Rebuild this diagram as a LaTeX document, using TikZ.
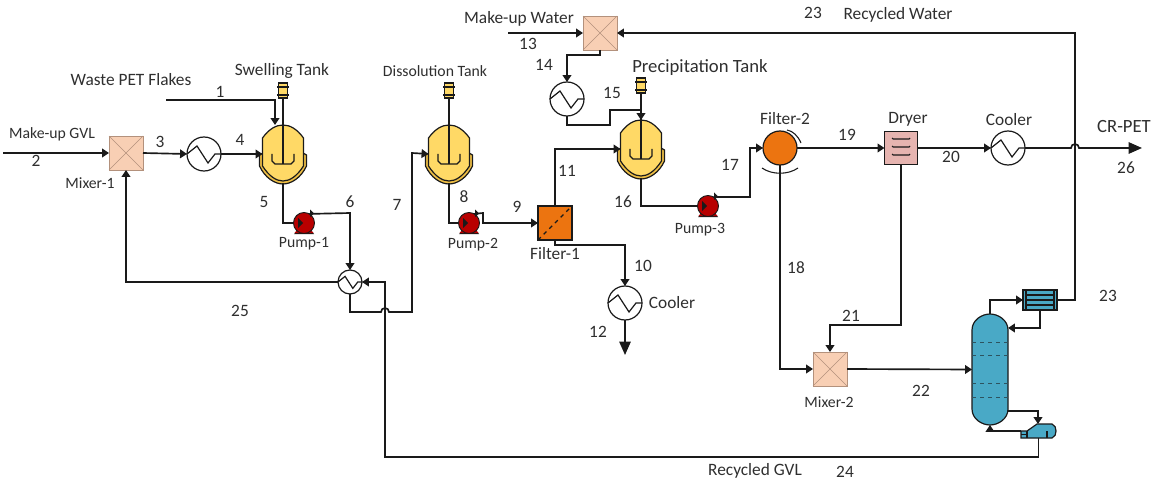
\documentclass[tikz,border=0pt]{standalone}
\usepackage{fontspec}
\setmainfont{Carlito}
\usetikzlibrary{arrows.meta,calc}
\definecolor{txt}{HTML}{2F2F2F}
\definecolor{ln}{HTML}{1A1A1A}
\definecolor{tankfill}{HTML}{FFD966}
\definecolor{jacketfill}{HTML}{EFBF45}
\definecolor{mixfill}{HTML}{F8CFB4}
\definecolor{mixline}{HTML}{B3917C}
\definecolor{orangef}{HTML}{EC7410}
\definecolor{dryerf}{HTML}{E6B4B0}
\definecolor{colf}{HTML}{49A9C6}
\def\u{0.75pt}
\tikzset{
  lab/.style={text=txt,font=\fontsize{13}{15}\selectfont,inner sep=0pt},
  labs/.style={text=txt,font=\fontsize{11.8}{14}\selectfont,inner sep=0pt},
  labb/.style={text=txt,font=\fontsize{14}{16}\selectfont,inner sep=0pt},
  flow/.style={draw=ln,line width=1.25pt,line join=miter},
  arr/.style={flow,-{Triangle[length=5.2pt,width=6.5pt]}},
  bigarr/.style={flow,-{Triangle[length=10pt,width=8.5pt]}},
  mixbox/.style={draw=mixline,fill=mixfill,line width=0.7pt,minimum width=34*\u,minimum height=34*\u,inner sep=0pt,outer sep=0pt},
  hxc/.style={circle,draw=ln,fill=white,line width=0.9pt,inner sep=0pt,outer sep=0pt},
  ghost/.style={inner sep=0pt,outer sep=0pt},
  eq/.style={draw=ln,line width=0.9pt},
}
\newcommand\mixer[3]{%
  \node[mixbox] (#1) at (#2,#3) {};
  \draw[mixline,line width=0.5pt] (#1.north west) -- (#1.south east) (#1.north east) -- (#1.south west);}
\newcommand\hxr[4]{% name x y radius
  \node[hxc,minimum size=2*#4*\u] (#1) at (#2,#3) {};
  \begin{scope}[shift={(#2,#3)},scale=#4/17]
    \draw[ln,line width=0.9pt] (-17,0) -- (-7,-8) -- (4,9) -- (11,0) -- (17,0);
  \end{scope}}
\newcommand\tank[3]{% name x y
  \node[ghost,minimum width=41*\u,minimum height=58*\u] (#1) at (#2,#3) {};
  \begin{scope}[shift={(#2,#3)}]
    \draw[eq,fill=jacketfill] (-20,-1) -- (-23.5,1) -- (-23.5,12) .. controls (-18,24) and (-8,30) .. (0,30) .. controls (8,30) and (18,24) .. (23.5,12) -- (23.5,1) -- (20,-1) -- cycle;
    \draw[eq,fill=tankfill] (-20.5,-16) .. controls (-14,-25) and (-7,-29) .. (0,-29) .. controls (7,-29) and (14,-25) .. (20.5,-16) -- (20.5,12) .. controls (14,22) and (7,27) .. (0,27) .. controls (-7,27) and (-14,22) .. (-20.5,12) -- cycle;
    \draw[eq] (0,-56) -- (0,10);
    \draw[eq] (-11,0) -- (-11,7) -- (-8,10) -- (8,10) -- (11,7) -- (11,0);
    \draw[eq,fill=tankfill] (-4.5,-71) rectangle (4.5,-56);
    \draw[eq] (-6,-67) -- (6,-67) (-6,-59) -- (6,-59);
  \end{scope}}
\newcommand\pump[3]{% name x y
  \begin{scope}[shift={(#2,#3)}]
    \fill[ln] (-6,7) -- (-10,11) -- (10,11) -- (6,7) -- cycle;
    \fill[red!70!black] (-7,7) -- (-9.5,10) -- (9.5,10) -- (7,7) -- cycle;
  \end{scope}
  \node[circle,draw=ln,fill=red!72!black,line width=0.7pt,minimum size=21*\u,inner sep=0pt,outer sep=0pt] (#1) at (#2,#3) {};
  \begin{scope}[shift={(#2,#3)}]
    \fill[ln] (-6,-5) -- (-1,0) -- (-6,5) -- cycle;
    \fill[ln] (6,-13.5) -- (10,-9.5) -- (6,-6) -- cycle;
  \end{scope}}
\begin{document}
\begin{tikzpicture}[x=0.75pt,y=-0.75pt]
\useasboundingbox (0,0) rectangle (1156,481);
\fill[white] (0,0) rectangle (1156,481);
% equipment
\mixer{mixa}{126}{153}
\mixer{mixb}{600}{33}
\mixer{mixc}{830}{369}
\hxr{hxa}{204}{154}{17}
\hxr{hxb}{350}{282}{12}
\hxr{hxc}{625}{303}{17}
\hxr{hxd}{567}{99}{17}
\hxr{hxe}{1008}{148}{17}
\tank{ta}{283}{154}
\tank{tb}{449}{154}
\tank{tc}{641}{149}
\pump{pa}{304}{223}
\pump{pb}{469}{223}
\pump{pc}{708}{206}
% filter 1
\node[draw=ln,fill=orangef,line width=0.9pt,minimum size=34*\u,inner sep=0pt,outer sep=0pt] (fa) at (555,223) {};
\draw[ln,line width=0.9pt,dashed] (fa.south west) -- (fa.north east);
% filter 2
\node[circle,draw=ln,fill=orangef,line width=0.9pt,minimum size=34*\u,inner sep=0pt,outer sep=0pt] (fb) at (780,148) {};
\draw[ln,line width=0.8pt] (787,130) .. controls (793,131) and (798,136) .. (801,143);
\draw[ln,line width=0.8pt] (762,168) .. controls (772,175) and (788,175) .. (798,168);
% dryer
\node[draw=ln,fill=dryerf,line width=0.9pt,minimum size=33*\u,inner sep=0pt,outer sep=0pt] (dr) at (901,148) {};
\draw[ln,line width=0.8pt] (892,138) -- (893,139) -- (909,139) -- (910,138)
  (892,146) -- (893,147) -- (909,147) -- (910,146)
  (892,154) -- (893,155) -- (909,155) -- (910,154);
% column
\node[ghost,minimum width=36*\u,minimum height=111*\u] (col) at (990,369.5) {};
\draw[eq,fill=colf] (972,330) .. controls (972,320) and (982,314) .. (990,314) .. controls (998,314) and (1008,320) .. (1008,330) -- (1008,409) .. controls (1008,419) and (998,425) .. (990,425) .. controls (982,425) and (972,419) .. (972,409) -- cycle;
\draw[ln!60!colf,line width=0.5pt,dashed] (972,342) -- (1008,342) (972,355) -- (1008,355) (972,383) -- (1008,383) (972,397) -- (1008,397);
% condenser
\node[draw=ln,fill=colf,line width=0.9pt,minimum width=34*\u,minimum height=20*\u,inner sep=0pt,outer sep=0pt] (co) at (1040,300) {};
\draw[ln,line width=0.8pt] (1026,290) -- (1026,310) (1054,290) -- (1054,310) (1026,295) -- (1054,295) (1026,300) -- (1054,300) (1026,305) -- (1054,305);
% reboiler
\node[ghost,minimum width=35*\u,minimum height=14*\u] (re) at (1038.5,431) {};
\draw[eq,fill=colf] (1021,431) -- (1027,431) -- (1037,424) -- (1052,424) .. controls (1055,425) and (1056,428) .. (1056,431) .. controls (1056,434) and (1055,437) .. (1052,438) -- (1021,438) -- cycle;
\draw[eq] (1027,431) -- (1027,438) (1021,434.5) -- (1027,434.5) (1047,431) -- (1047,438);
% free ends
\coordinate (s2) at (3,153);
\coordinate (s1) at (166,100);
\coordinate (s1b) at (275,100);
\coordinate (s13) at (508,33);
\coordinate (s26) at (1142,148);
\coordinate (ja) at (385,312);
\coordinate (jb) at (1075,148);
\coordinate (s12) at (625,355);
% connectors
\draw[arr] (s2) -- (mixa.west);
\draw[arr] (mixa.east) -- (hxa.west);
\draw[arr] (hxa.east) -- (ta.west);
\draw[arr] (s1) -- (s1b) -- (275,125);
\draw[flow] (ta.south) |- (pa.west);
\draw[arr] (pa.60) -- (350,213) -- (hxb.north);
\draw[arr] (hxb.south) -- (350,312) -- ($(ja)+(-4,0)$) arc[start angle=180,end angle=360,radius=4] -- (412,312) -- (412,153) -- (tb.west);
\draw[arr] (re.south) |- (385,457) -- (ja |- hxb.east) -- (hxb.east);
\draw[arr] (hxb.west) -| (mixa.south);
\draw[flow] (tb.south) |- (pb.west);
\draw[arr] (pb.60) -- (483,213) -- (483,223) -- (fa.west);
\draw[arr] (fa.north) |- (tc.west);
\draw[arr] (fa.south) -- (555,245) -| (hxc.north);
\draw[bigarr] (hxc.south) -- (s12);
\draw[arr] (s13) -- (mixb.west);
\draw[arr] (co.east) -- (1075,300) -- (1075,33) -- (mixb.east);
\draw[arr] (mixb.south) -- (600,55) -- (567,55) -- (hxd.north);
\draw[arr] (hxd.south) -- (567,125) -- (610,125) -- (610,110) -- (641,110) -- (tc.north);
\draw[flow] (tc.south) |- (pc.west);
\draw[arr] (pc.60) -- (750,197) -- (750,148) -- (fb.west);
\draw[arr] (fb.east) -- (dr.west);
\draw[arr] (dr.east) -- (hxe.west);
\draw[bigarr] (hxe.east) -- ($(jb)+(-4,0)$) arc[start angle=180,end angle=360,radius=4] -- (s26);
\draw[arr] (fb.south) |- (mixc.west);
\draw[arr] (dr.south) -- (901,325) -- (830,325) -- (mixc.north);
\draw[arr] (mixc.east) -- (col.west);
\draw[arr] (col.north) |- (co.west);
\draw[arr] (co.south) -- (1040,328) -- (col.east |- 0,328);
\draw[arr] (1008,411) -- (1038,411) -- (1038,424);
\draw[arr] (re.west) -- (col.south |- re.west) -- (col.south);
% labels
\node[labs] (l01) at (52,134) {Make-up GVL};
\node[lab] (l02) at (36,161) {2};
\node[labs] (l03) at (90,183) {Mixer-1};
\node[lab] (l04) at (160,142) {3};
\node[lab] (l05) at (240,140) {4};
\node[lab] (l06) at (131,80) {Waste PET Flakes};
\node[lab] (l07) at (220,92) {1};
\node[lab] (l08) at (282,71) {Swelling Tank};
\node[labs] (l09) at (435,71) {Dissolution Tank};
\node[lab] (l10) at (264,202) {5};
\node[lab] (l11) at (350,202) {6};
\node[lab] (l12) at (397,205) {7};
\node[lab] (l13) at (464,197) {8};
\node[lab] (l14) at (517,207) {9};
\node[labs] (l15) at (304,244) {Pump-1};
\node[labs] (l16) at (473,245) {Pump-2};
\node[lab] (l17) at (555,254) {Filter-1};
\node[lab] (l18) at (643,266) {10};
\node[lab] (l19) at (672,303) {Cooler};
\node[lab] (l20) at (598,332) {12};
\node[lab] (l21) at (240,311) {25};
\node[lab] (l22) at (567,171) {11};
\node[lab] (l23) at (519,19) {Make-up Water};
\node[lab] (l24) at (528,44) {13};
\node[lab] (l25) at (544,65) {14};
\node[lab] (l26) at (612,93) {15};
\node[labb] (l27) at (700,68) {Precipitation Tank};
\node[lab] (l28) at (623,202) {16};
\node[labs] (l29) at (700,230) {Pump-3};
\node[lab] (l30) at (730,165) {17};
\node[lab] (l31) at (785,119) {Filter-2};
\node[lab] (l32) at (847,135) {19};
\node[lab] (l33) at (908,119) {Dryer};
\node[lab] (l34) at (1009,120) {Cooler};
\node[lab] (l35) at (951,157) {20};
\node[labb] (l36) at (1124,127) {CR-PET};
\node[lab] (l37) at (1126,168) {26};
\node[lab] (l38) at (796,268) {18};
\node[lab] (l39) at (851,316) {21};
\node[lab] (l40) at (921,391) {22};
\node[labs] (l41) at (829,402) {Mixer-2};
\node[lab] (l42) at (813,13) {23};
\node[lab] (l43) at (898,15) {Recycled Water};
\node[lab] (l44) at (1108,296) {23};
\node[lab] (l45) at (755,471) {Recycled GVL};
\node[lab] (l46) at (845,472) {24};
\end{tikzpicture}
\end{document}
